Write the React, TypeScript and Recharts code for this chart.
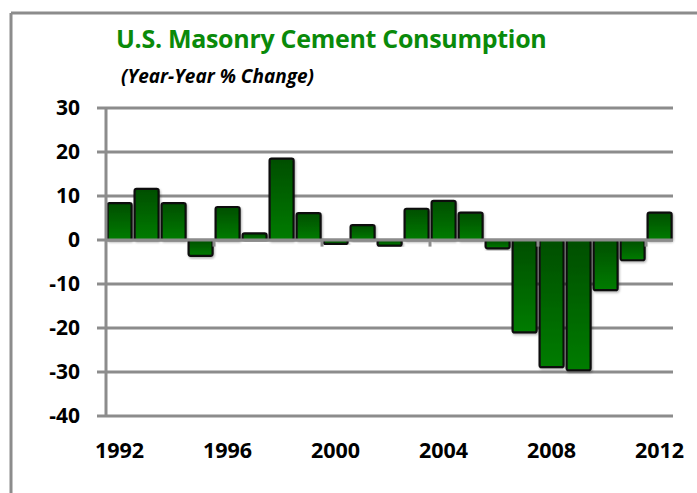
import React from 'react';
import { BarChart, Bar, XAxis, YAxis, CartesianGrid, ReferenceLine } from 'recharts';

const years = [
  '1992', '1993', '1994', '1995', '1996', '1997', '1998', '1999', '2000', '2001', '2002',
  '2003', '2004', '2005', '2006', '2007', '2008', '2009', '2010', '2011', '2012',
];

// year-over-year % change
const pctChange = [
  8.4, 11.6, 8.4, -3.6, 7.5, 1.5, 18.5, 6.1, -0.9, 3.4, -1.3,
  7.1, 8.9, 6.2, -1.9, -21.0, -28.9, -29.6, -11.4, -4.6, 6.2,
];

const yTicks = [-40, -30, -20, -10, 0, 10, 20, 30];

// small tick marks on the zero line, at the left edge of these years
const tickYears = ['1996', '2000', '2004', '2008', '2012'];

const data = years.map((year, i) => ({ year, value: pctChange[i] }));

const GRID = '#8c8c8c';
const FONT = '"Open Sans", sans-serif';

export default function App() {
  return (
    <div style={{ position: 'absolute', left: 0, top: 0, width: 697, height: 493, background: '#fff' }}>
      {/* frame + titles */}
      <svg width={697} height={493} style={{ position: 'absolute', left: 0, top: 0 }}>
        <line x1={11} y1={13} x2={697} y2={13} stroke={GRID} strokeWidth={3} />
        <line x1={11} y1={13} x2={11} y2={493} stroke={GRID} strokeWidth={3} />
        <text x={116} y={48} fill="#0a8a0a" fontFamily={FONT} fontWeight={700} fontSize={25} letterSpacing={-0.3}>
          U.S. Masonry Cement Consumption
        </text>
        <text x={121} y={83} fill="#000" fontFamily={FONT} fontWeight={700} fontStyle="italic" fontSize={19} letterSpacing={0}>
          (Year-Year % Change)
        </text>
      </svg>

      <div style={{ position: 'absolute', left: 0, top: 0 }}>
        <BarChart
          width={697}
          height={493}
          data={data}
          margin={{ top: 108, right: 24, bottom: 37, left: 0 }}
          barCategoryGap="6%"
        >
          <defs>
            <linearGradient id="barFill" x1="0" y1="0" x2="0" y2="1">
              <stop offset="0%" stopColor="#004e00" />
              <stop offset="100%" stopColor="#007c00" />
            </linearGradient>
            <filter id="barShadow" x="-20%" y="-20%" width="140%" height="140%">
              <feDropShadow dx="1" dy="1.5" stdDeviation="0.8" floodColor="#000" floodOpacity="0.3" />
            </filter>
          </defs>
          <CartesianGrid vertical={false} stroke={GRID} strokeWidth={3} />
          <XAxis
            dataKey="year"
            interval={3}
            axisLine={false}
            tickLine={false}
            tickSize={0}
            tickMargin={27}
            height={40}
            tick={{ fill: '#000', fontFamily: FONT, fontWeight: 700, fontSize: 21.5 }}
          />
          <YAxis
            domain={[-40, 30]}
            ticks={yTicks}
            interval={0}
            width={106}
            axisLine={{ stroke: GRID, strokeWidth: 3 }}
            tickLine={{ stroke: GRID, strokeWidth: 3 }}
            tickSize={9}
            tickMargin={17}
            tick={{ fill: '#000', fontFamily: FONT, fontWeight: 700, fontSize: 21 }}
          />
          <Bar
            dataKey="value"
            fill="url(#barFill)"
            stroke="#0d0d0d"
            strokeWidth={2.2}
            radius={2}
            filter="url(#barShadow)"
            isAnimationActive={false}
          />
          <ReferenceLine y={0} stroke={GRID} strokeWidth={3} />
          {tickYears.map((yr) => (
            <ReferenceLine
              key={yr}
              segment={[{ x: yr, y: 0 }, { x: yr, y: -1.5 }]}
              position="start"
              stroke={GRID}
              strokeWidth={3}
            />
          ))}
        </BarChart>
      </div>
    </div>
  );
}
